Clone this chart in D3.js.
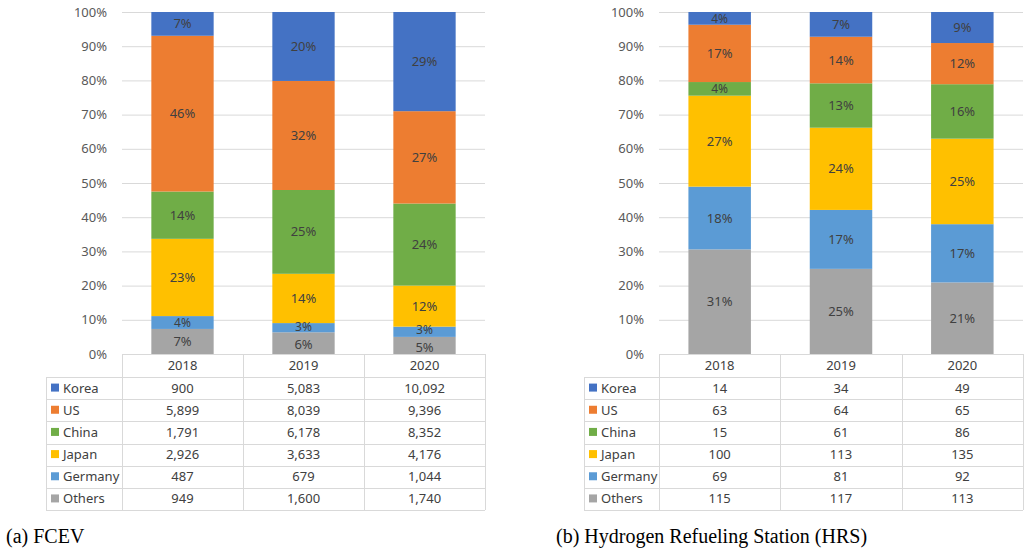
<!DOCTYPE html>
<html><head><meta charset="utf-8">
<script src="https://cdn.jsdelivr.net/npm/d3@7"></script>
<style>
body{margin:0;background:#fff;}
svg{display:block;}
</style></head>
<body>
<svg id="chart" width="1030" height="551"></svg>
<script>
const years = ["2018", "2019", "2020"];
const countries = ["Korea", "US", "China", "Japan", "Germany", "Others"];
const colors = ["#4472C4", "#ED7D31", "#70AD47", "#FFC000", "#5B9BD5", "#A5A5A5"];
const yTickValues = [0, 0.1, 0.2, 0.3, 0.4, 0.5, 0.6, 0.7, 0.8, 0.9, 1.0];

// (a) FCEV
const fcevKorea = [900, 5083, 10092];
const fcevUS = [5899, 8039, 9396];
const fcevChina = [1791, 6178, 8352];
const fcevJapan = [2926, 3633, 4176];
const fcevGermany = [487, 679, 1044];
const fcevOthers = [949, 1600, 1740];

// (b) HRS
const hrsKorea = [14, 34, 49];
const hrsUS = [63, 64, 65];
const hrsChina = [15, 61, 86];
const hrsJapan = [100, 113, 135];
const hrsGermany = [69, 81, 92];
const hrsOthers = [115, 117, 113];

const captionA = "(a) FCEV";
const captionB = "(b) Hydrogen Refueling Station (HRS)";

const svg = d3.select("#chart");
const FONT = "'Noto Sans', 'Open Sans', sans-serif";
const fmtPct = d3.format(".0%");
const fmtNum = d3.format(",");

function panel(opts) {
  const series = opts.series; // in countries order
  const rows = years.map((yr, i) => {
    const o = {year: yr};
    countries.forEach((c, k) => o[c] = series[k][i]);
    return o;
  });
  const norm = rows.map(r => {
    const tot = d3.sum(countries, c => r[c]);
    const o = {year: r.year};
    countries.forEach(c => o[c] = r[c] / tot);
    return o;
  });
  const stackOrder = countries.slice().reverse(); // Others at bottom
  const stacked = d3.stack().keys(stackOrder)(norm);

  const g = svg.append("g");
  const x = d3.scaleBand().domain(years).range([opts.left, opts.right]).padding(0);
  const y = d3.scaleLinear().domain([0, 1]).range([opts.bottom, opts.top]);
  const barW = x.bandwidth() * 0.515;

  // gridlines
  g.append("g").selectAll("line").data(yTickValues.filter(v => v > 0)).join("line")
    .attr("x1", opts.left).attr("x2", opts.right)
    .attr("y1", d => y(d) + 0.5).attr("y2", d => y(d) + 0.5)
    .attr("stroke", "#D9D9D9").attr("stroke-width", 1);

  // y tick labels
  g.append("g").selectAll("text").data(yTickValues).join("text")
    .attr("x", opts.left - 15).attr("y", d => y(d))
    .attr("dy", "0.35em").attr("text-anchor", "end")
    .attr("font-family", FONT).attr("font-size", 13).attr("fill", "#595959")
    .text(d => fmtPct(d));

  // bars
  const layers = g.append("g").selectAll("g").data(stacked).join("g")
    .attr("fill", d => colors[countries.indexOf(d.key)]);
  layers.selectAll("rect").data(d => d).join("rect")
    .attr("x", d => x(d.data.year) + (x.bandwidth() - barW) / 2)
    .attr("width", barW)
    .attr("y", d => y(d[1]))
    .attr("height", d => y(d[0]) - y(d[1]));

  // labels (per bar, bottom to top), resolve overlaps between thin segments
  const lab = g.append("g");
  years.forEach((yr, i) => {
    const items = stacked.map(layer => {
      const d = layer[i];
      const h = y(d[0]) - y(d[1]);
      return {
        yy: y((d[0] + d[1]) / 2),
        size: h < 16 ? 12 : 13,
        text: Math.round((d[1] - d[0]) * 100) + "%"
      };
    });
    // push apart adjacent labels (items ordered bottom -> top, yy decreasing)
    for (let it = 0; it < 5; it++) {
      for (let k = 0; k < items.length - 1; k++) {
        const a = items[k], b = items[k + 1];
        const need = (a.size + b.size) / 2 * 1.37;
        const gap = a.yy - b.yy;
        if (gap < need) {
          const shift = (need - gap) / 2;
          a.yy += shift; b.yy -= shift;
        }
      }
    }
    items.forEach(it => {
      lab.append("text")
        .attr("x", x(yr) + x.bandwidth() / 2)
        .attr("y", it.yy)
        .attr("dy", "0.35em").attr("text-anchor", "middle")
        .attr("font-family", FONT).attr("font-size", it.size).attr("fill", "#404040")
        .text(it.text);
    });
  });

  // table
  const headerH = 23, rowH = 22.17;
  const t = g.append("g");
  const tTop = opts.bottom;
  const bodyTop = tTop + headerH;
  const tBottom = bodyTop + rowH * countries.length;
  const lineColor = "#D9D9D9";
  t.append("line").attr("x1", opts.left).attr("x2", opts.right)
    .attr("y1", tTop + 0.5).attr("y2", tTop + 0.5).attr("stroke", lineColor);
  d3.range(countries.length + 1).forEach(i => {
    const yy = Math.round(bodyTop + i * rowH) + 0.5;
    t.append("line").attr("x1", opts.tableLeft).attr("x2", opts.right)
      .attr("y1", yy).attr("y2", yy).attr("stroke", lineColor);
  });
  const vx = [opts.left].concat(years.map(yr => x(yr) + x.bandwidth()));
  vx.forEach(v => {
    t.append("line").attr("x1", Math.round(v) + 0.5).attr("x2", Math.round(v) + 0.5)
      .attr("y1", tTop).attr("y2", tBottom).attr("stroke", lineColor);
  });
  t.append("line").attr("x1", opts.tableLeft + 0.5).attr("x2", opts.tableLeft + 0.5)
    .attr("y1", bodyTop).attr("y2", tBottom).attr("stroke", lineColor);

  t.selectAll("text.hdr").data(years).join("text").attr("class", "hdr")
    .attr("x", d => x(d) + x.bandwidth() / 2).attr("y", tTop + headerH / 2)
    .attr("dy", "0.35em").attr("text-anchor", "middle")
    .attr("font-family", FONT).attr("font-size", 13).attr("fill", "#404040")
    .text(d => d);

  countries.forEach((c, k) => {
    const cy = bodyTop + rowH * k + rowH / 2;
    t.append("rect").attr("x", opts.tableLeft + 5).attr("y", cy - 4.5)
      .attr("width", 8).attr("height", 8).attr("fill", colors[k]);
    t.append("text").attr("x", opts.tableLeft + 17).attr("y", cy)
      .attr("dy", "0.35em").attr("font-family", FONT).attr("font-size", 13)
      .attr("fill", "#404040").text(c);
    years.forEach((yr, i) => {
      t.append("text").attr("x", x(yr) + x.bandwidth() / 2).attr("y", cy)
        .attr("dy", "0.35em").attr("text-anchor", "middle")
        .attr("font-family", FONT).attr("font-size", 13).attr("fill", "#404040")
        .text(fmtNum(series[k][i]));
    });
  });

  svg.append("text").attr("x", opts.capX).attr("y", 543)
    .attr("font-family", "'Liberation Serif', 'Times New Roman', serif")
    .attr("font-size", 20).attr("fill", "#000").text(opts.caption);
}

panel({
  series: [fcevKorea, fcevUS, fcevChina, fcevJapan, fcevGermany, fcevOthers],
  left: 122, right: 485, top: 12, bottom: 354, tableLeft: 46,
  caption: captionA, capX: 6
});
panel({
  series: [hrsKorea, hrsUS, hrsChina, hrsJapan, hrsGermany, hrsOthers],
  left: 659, right: 1023, top: 12, bottom: 354, tableLeft: 584,
  caption: captionB, capX: 556
});
</script>
</body></html>
